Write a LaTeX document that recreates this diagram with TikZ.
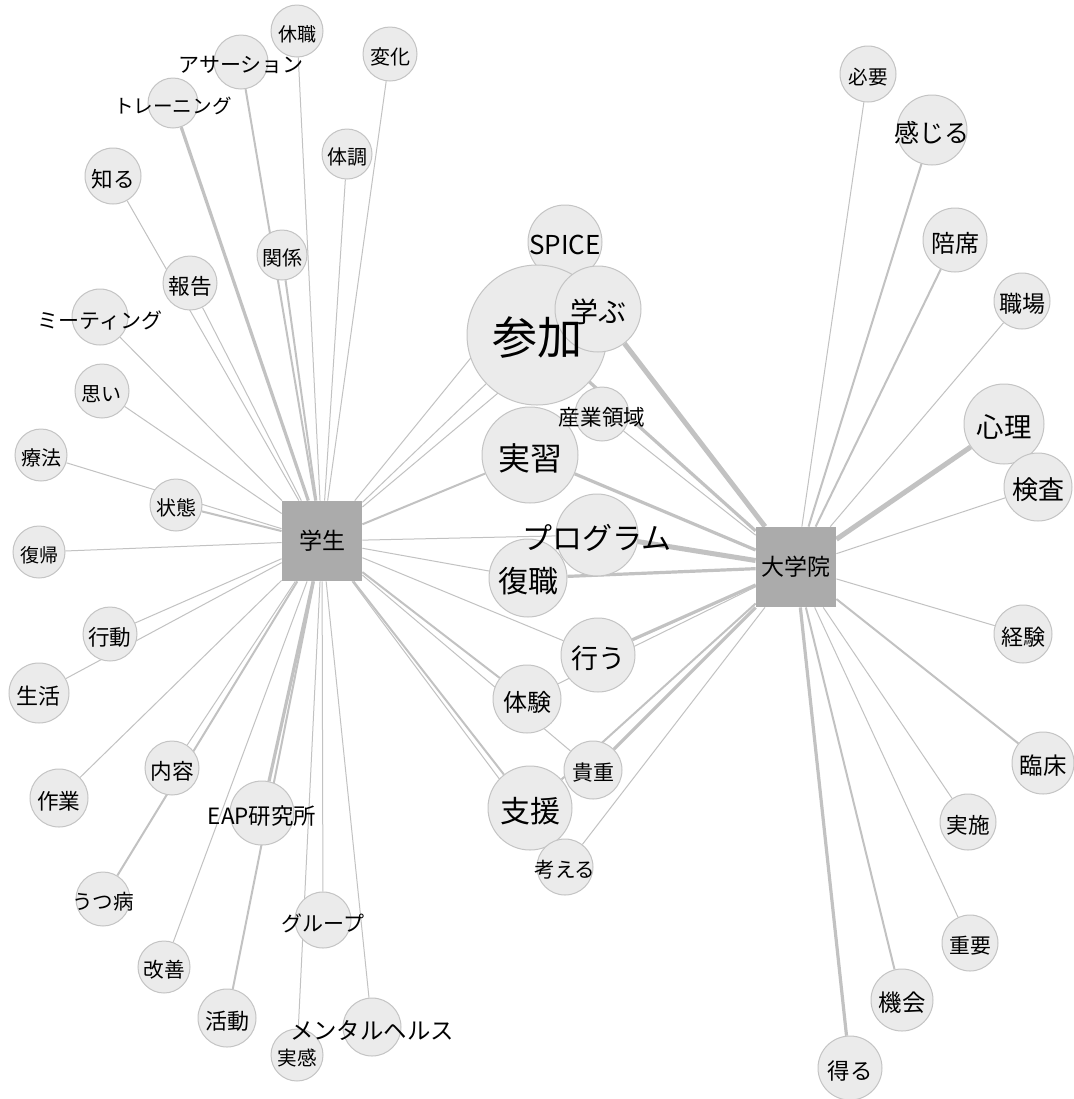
\documentclass[tikz,border=0pt]{standalone}
\usepackage{fontspec}
\setmainfont{Noto Sans CJK JP}
\definecolor{linegray}{HTML}{C2C2C2}
\definecolor{wordfill}{HTML}{EBEBEB}
\definecolor{wordline}{HTML}{C4C4C4}
\definecolor{hubfill}{HTML}{ABABAB}
\pgfdeclarelayer{edges}
\pgfdeclarelayer{words}
\pgfsetlayers{edges,main,words}

\begin{document}
\begin{tikzpicture}[x=0.5pt, y=-0.5pt,
    word/.style={circle, fill=wordfill, draw=wordline, line width=0.5pt, inner sep=0pt},
    hub/.style={rectangle, fill=hubfill, inner sep=0pt, minimum size=40pt, font=\fontsize{11.5}{11.5}\selectfont},
    wt1/.style={draw=linegray, line width=0.5pt},
    wt2/.style={draw=linegray, line width=1pt},
    wt3/.style={draw=linegray, line width=1.6pt},
    wt4/.style={draw=linegray, line width=2.5pt}]
  \useasboundingbox (0,0) rectangle (1074,1099);

  % Knoten: Studierende / Graduiertenschule
  \node[hub] (gak) at (322,541) {学生};
  \node[hub] (dai) at (796,567) {大学院};

  % Wortkreise: name/x/y/radius/schrift/text
  \foreach \n/\x/\y/\r/\s/\t in {
      kyu/297/31/26/9.5/休職, asr/241/62/27/10.5/アサーション, hen/390/54/27/10/変化,
      trn/173/103/25/9.8/トレーニング, tai/347/154/25/10/体調, shi/113/176/28/10.8/知る,
      kan/282/255/25/10/関係, hok/190/283/27/10.8/報告, mtg/100/317/28/10.5/ミーティング,
      omo/102/391/27/10/思い, ryo/41/455/26/10/療法, jot/176/505/26/10/状態,
      fkk/39/552/26/9.5/復帰, kod/110/634/27/10.8/行動, sei/39/693/30/11/生活,
      sgy/59/798/29/10.8/作業, nai/172/768/27/10.8/内容, eap/262/813/32/11.2/EAP研究所,
      utu/103/899/27/10.3/うつ病, kai/164/967/26/10.3/改善, kat/227/1018/29/11/活動,
      grp/323/920/28/10.5/グループ, mhl/372/1027/29/11.7/メンタルヘルス, jkn/297/1055/26/9.8/実感,
      spc/565/242/37/13/SPICE, snk/537/335/70/22.5/参加, mnb/598/309/43/14/学ぶ,
      sgr/602/414/27/10.8/産業領域, jsh/530/455/48/16/実習, prg/597/535/41/15/プログラム,
      fks/528/578/39/15/復職, okn/598/655/37/13.5/行う, tik/527/699/34/12/体験,
      kic/593/770/29/10.5/貴重, shn/530/808/42/15/支援, kng/565/867/28/10.3/考える,
      hty/868/74/28/9.8/必要, knj/932/130/35/12.5/感じる, bai/955/240/32/12/陪席,
      sby/1022/301/28/11.5/職場, snr/1004/424/40/13.7/心理, ken/1038/487/34/13/検査,
      kkn/1023/634/29/11/経験, rns/1043/763/31/11.7/臨床, jss/968/822/28/10.8/実施,
      jyo/970/943/28/10.4/重要, kik/902/1000/31/11.7/機会, eru/850/1068/32/11.2/得る} {
      \node[word, minimum size=\r pt] (\n) at (\x,\y) {};
      \begin{pgfonlayer}{words}
        \node[inner sep=0pt, font=\fontsize{\s}{\s}\selectfont] (\n-t) at (\x,\y+3) {\t};
      \end{pgfonlayer}
  }

  \begin{pgfonlayer}{edges}
    \fill[white] (0,0) rectangle (1074,1099);
    % Kanten zu 学生
    \foreach \b/\w in {kyu/wt1, asr/wt2, hen/wt1, trn/wt3, tai/wt1, kan/wt2, hok/wt1, shi/wt1,
        mtg/wt1, omo/wt1, jot/wt2, ryo/wt1, fkk/wt1, kod/wt1, sei/wt1, sgy/wt1, nai/wt1,
        utu/wt2, kai/wt1, eap/wt3, kat/wt2, grp/wt1, jkn/wt1, mhl/wt1, spc/wt1, snk/wt1,
        mnb/wt1, jsh/wt2, prg/wt1, fks/wt1, okn/wt1, tik/wt2, kic/wt1, shn/wt2, kng/wt1}
      \draw[\w] (gak) -- (\b);
    % Kanten zu 大学院
    \foreach \b/\w in {mnb/wt4, snk/wt3, sgr/wt1, jsh/wt3, prg/wt4, fks/wt3, okn/wt3, tik/wt1,
        kic/wt3, shn/wt2, kng/wt1, hty/wt1, knj/wt2, bai/wt2, sby/wt1, snr/wt4, ken/wt1,
        kkn/wt1, rns/wt2, jss/wt1, jyo/wt1, kik/wt2, eru/wt3}
      \draw[\w] (dai) -- (\b);
  \end{pgfonlayer}
\end{tikzpicture}
\end{document}
